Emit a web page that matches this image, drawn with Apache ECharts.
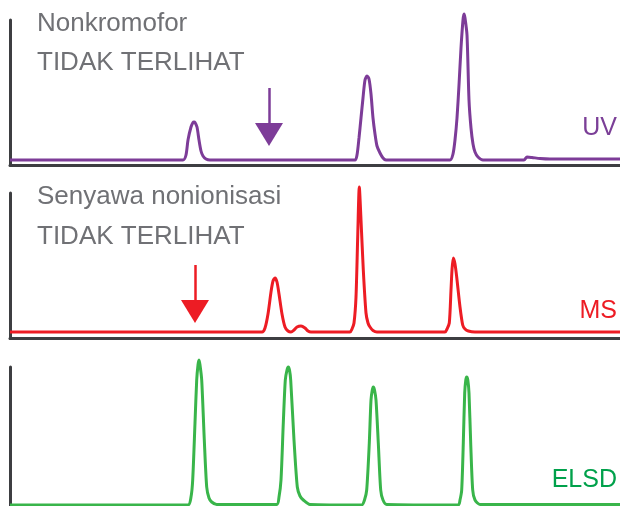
<!DOCTYPE html>
<html>
<head>
<meta charset="utf-8">
<script src="https://cdn.jsdelivr.net/npm/echarts@6/dist/echarts.min.js"></script>
<style>
  html, body { margin: 0; padding: 0; background: #ffffff; }
  #chart { width: 620px; height: 506px; }
</style>
</head>
<body>
<div id="chart"></div>
<script>
// Detector traces: [retention position, signal above baseline]
const uvPoints = [
  [10,0],[183,0],[186,5],[188,20],[191,33],[193,37.5],[194,38],[195,37.5],[197,33],[199,20],[201,9],[203,4],[206,1],[210,0],
  [355,0],[357,5],[359,22],[361,42],[363,62],[365,80],[367,84],[369,81],[371,66],[373,42],[375,26],[377,14],[380,7],[383,2],[386,0],
  [450,0],[453,6],[455,20],[457,42],[459,75],[461,112],[463,140],[464,146],[465,142],[467,125],[469,60],[471,32],[473,16],[475,8],[478,3],[483,0],
  [524,0],[527,3],[532,2.5],[540,1.5],[550,1],[620,1]
];
const msPoints = [
  [10,0],[262,0],[265,4],[268,18],[271,40],[273,51],[275,54],[277,50],[279,38],[282,18],[285,5],[288,1],[291,0],
  [294,2],[297,5],[301,6],[305,4],[308,1],[311,0],
  [350,0],[352,3],[354,9],[356,35],[357.7,95],[359.3,145],[361,112],[363.3,62],[366,19],[368,9],[370,5],[373,1.5],[377,0],
  [445,0],[447,3],[449.3,9],[451,42],[452,62],[453.3,74],[455,68],[456.7,55],[460,25],[462.7,7],[465,3],[468.3,1],[475,0],[620,0]
];
const elsdPoints = [
  [10,0],[188,0],[191,8],[192.7,25],[195,82],[196.7,125],[198,140],[199,145],[200,140],[201.7,125],[204.3,65],[206.7,18],[209,7],[211.7,3],[216.7,0.5],
  [276.7,0.5],[279,8],[281,25],[283.3,82],[285.3,125],[287,135],[288.3,138],[289.5,135],[290.7,125],[294,65],[297.3,18],[300,9],[303.3,5],[310,0.5],
  [361.7,0],[364.5,5],[366.7,15],[369.3,62],[371,105],[372.3,115],[373.3,118],[374.5,115],[376,105],[378.3,62],[380.7,15],[383,5],[386.7,0.5],
  [458.3,0],[460,5],[461.7,15],[463.3,62],[464.7,112],[465.8,125],[466.7,128],[467.8,125],[469,112],[470.7,62],[472.7,15],[475,5],[480,0.5],[620,0.5]
];
// Arrows: [x, shaft start value, head centre value]
const uvArrow = [269, 72, 25.5];
const msArrow = [195, 67, 20.5];

const detectorLabels = ['UV', 'MS', 'ELSD'];
const noteLines = [
  ['Nonkromofor', 'TIDAK TERLIHAT'],
  ['Senyawa nonionisasi', 'TIDAK TERLIHAT']
];

const axisColor = '#3d3e41';
const purple = '#7d3c98', red = '#ed1c24', green = '#39b54a';
const labelColors = ['#7b3f97', '#ed1c24', '#00a14b'];
const grayText = '#707175';

const grids = [
  { left: 10, right: 0, top: 20, height: 145, outerBoundsMode: 'none' },
  { left: 10, right: 0, top: 193, height: 145.5, outerBoundsMode: 'none' },
  { left: 10, right: 0, top: 367, height: 144, outerBoundsMode: 'none' }
];
const yRanges = [[-5, 140], [-6.5, 139], [-6, 138]];

function xAx(i) {
  return {
    type: 'value', gridIndex: i, min: 10, max: 620,
    axisLine: { show: true, onZero: false, lineStyle: { color: axisColor, width: 3 } },
    axisTick: { show: false }, axisLabel: { show: false }, splitLine: { show: false }
  };
}
function yAx(i) {
  return {
    type: 'value', gridIndex: i, min: yRanges[i][0], max: yRanges[i][1],
    axisLine: { show: true, onZero: false, lineStyle: { color: axisColor, width: 3 } },
    axisTick: { show: false }, axisLabel: { show: false }, splitLine: { show: false }
  };
}
function arrowMark(a, color) {
  return {
    silent: true, animation: false,
    symbol: ['none', 'triangle'], symbolSize: [28, 23],
    label: { show: false },
    lineStyle: { color: color, width: 2.5, type: 'solid' },
    itemStyle: { color: color },
    data: [[{ coord: [a[0], a[1]] }, { coord: [a[0], a[2]] }]]
  };
}
function trace(i, data, color, arrow) {
  const s = {
    type: 'line', xAxisIndex: i, yAxisIndex: i, data: data,
    showSymbol: false, smooth: 0.25, clip: false, animation: false,
    lineStyle: { color: color, width: 3 }, itemStyle: { color: color }
  };
  if (arrow) s.markLine = arrowMark(arrow, color);
  return s;
}

const font = 'Liberation Sans, Arial, sans-serif';
const graphics = [];
const noteTops = [[11, 50], [184, 224]];
noteLines.forEach((lines, p) => {
  lines.forEach((t, k) => {
    graphics.push({ type: 'text', left: 37, top: noteTops[p][k],
      style: { text: t, fill: grayText, font: '26px ' + font } });
  });
});
const labelTops = [116, 299, 468];
detectorLabels.forEach((t, i) => {
  graphics.push({ type: 'text', right: 3, top: labelTops[i],
    style: { text: t, fill: labelColors[i], font: '25px ' + font } });
});

const chart = echarts.init(document.getElementById('chart'), null, { renderer: 'canvas' });
chart.setOption({
  backgroundColor: '#ffffff',
  animation: false,
  grid: grids,
  xAxis: [xAx(0), xAx(1), xAx(2)],
  yAxis: [yAx(0), yAx(1), yAx(2)],
  series: [
    trace(0, uvPoints, purple, uvArrow),
    trace(1, msPoints, red, msArrow),
    trace(2, elsdPoints, green, null)
  ],
  graphic: graphics
});
</script>
</body>
</html>
